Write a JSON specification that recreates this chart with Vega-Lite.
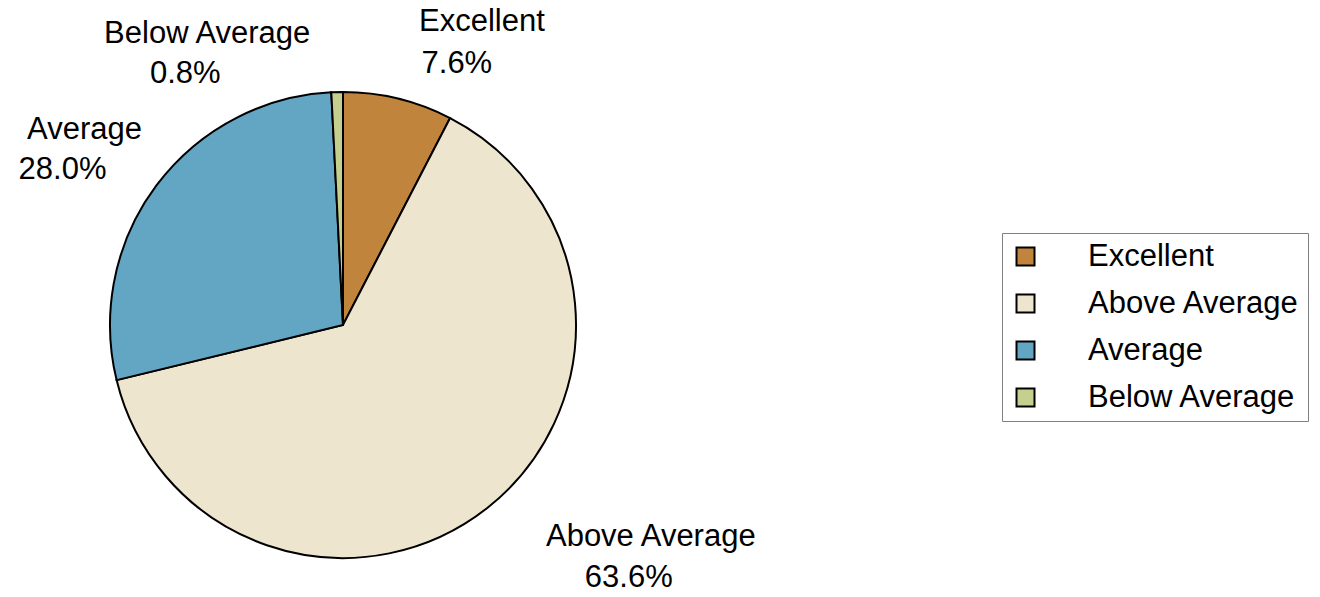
{
  "$schema": "https://vega.github.io/schema/vega-lite/v6.json",
  "width": 686,
  "height": 544,
  "autosize": {"type": "none"},
  "padding": {"left": 0, "top": 53, "right": 634, "bottom": 0},
  "background": "white",
  "config": {"view": {"stroke": null}, "text": {"font": "Liberation Sans"}},
  "data": {
    "values": [
      {"category": "Excellent", "share": 0.076, "rank": 1},
      {"category": "Above Average", "share": 0.636, "rank": 2},
      {"category": "Average", "share": 0.280, "rank": 3},
      {"category": "Below Average", "share": 0.008, "rank": 4}
    ]
  },
  "encoding": {
    "theta": {"field": "share", "type": "quantitative", "stack": true},
    "order": {"field": "rank", "type": "quantitative", "sort": "ascending"}
  },
  "layer": [
    {
      "mark": {"type": "arc", "outerRadius": 233, "stroke": "black", "strokeWidth": 2},
      "encoding": {
        "color": {
          "field": "category",
          "type": "nominal",
          "sort": ["Excellent", "Above Average", "Average", "Below Average"],
          "scale": {
            "domain": ["Excellent", "Above Average", "Average", "Below Average"],
            "range": ["#C0843D", "#EDE5CE", "#62A6C4", "#C5D08F"]
          },
          "legend": {
            "title": null,
            "orient": "none",
            "legendX": 1002,
            "legendY": 180,
            "strokeColor": "#808080",
            "fillColor": "white",
            "padding": 8,
            "symbolType": "square",
            "symbolSize": 324,
            "symbolStrokeColor": "black",
            "symbolStrokeWidth": 2,
            "symbolOpacity": 1,
            "labelFont": "Liberation Sans",
            "labelFontSize": 31,
            "labelColor": "black",
            "labelOffset": 47,
            "labelLimit": 400,
            "rowPadding": 15
          }
        }
      }
    },
    {
      "mark": {"type": "text", "radius": 270, "dx": 75, "dy": -41, "fontSize": 31, "color": "black", "align": "center", "baseline": "middle"},
      "encoding": {"detail": {"field": "category"}, "text": {"condition": {"test": "datum.category === 'Excellent'", "field": "category"}, "value": ""}}
    },
    {
      "mark": {"type": "text", "radius": 270, "dx": 50, "dy": 1, "fontSize": 31, "color": "black", "align": "center", "baseline": "middle"},
      "encoding": {"detail": {"field": "category"}, "text": {"condition": {"test": "datum.category === 'Excellent'", "field": "share", "type": "quantitative", "format": ".1%"}, "value": ""}}
    },
    {
      "mark": {"type": "text", "radius": 270, "dx": 141, "dy": 0, "fontSize": 31, "color": "black", "align": "center", "baseline": "middle"},
      "encoding": {"detail": {"field": "category"}, "text": {"condition": {"test": "datum.category === 'Above Average'", "field": "category"}, "value": ""}}
    },
    {
      "mark": {"type": "text", "radius": 270, "dx": 119, "dy": 41, "fontSize": 31, "color": "black", "align": "center", "baseline": "middle"},
      "encoding": {"detail": {"field": "category"}, "text": {"condition": {"test": "datum.category === 'Above Average'", "field": "share", "type": "quantitative", "format": ".1%"}, "value": ""}}
    },
    {
      "mark": {"type": "text", "radius": 270, "dx": -42, "dy": -34, "fontSize": 31, "color": "black", "align": "center", "baseline": "middle"},
      "encoding": {"detail": {"field": "category"}, "text": {"condition": {"test": "datum.category === 'Average'", "field": "category"}, "value": ""}}
    },
    {
      "mark": {"type": "text", "radius": 270, "dx": -64, "dy": 6, "fontSize": 31, "color": "black", "align": "center", "baseline": "middle"},
      "encoding": {"detail": {"field": "category"}, "text": {"condition": {"test": "datum.category === 'Average'", "field": "share", "type": "quantitative", "format": ".1%"}, "value": ""}}
    },
    {
      "mark": {"type": "text", "radius": 270, "dx": -129, "dy": -21, "fontSize": 31, "color": "black", "align": "center", "baseline": "middle"},
      "encoding": {"detail": {"field": "category"}, "text": {"condition": {"test": "datum.category === 'Below Average'", "field": "category"}, "value": ""}}
    },
    {
      "mark": {"type": "text", "radius": 270, "dx": -151, "dy": 19, "fontSize": 31, "color": "black", "align": "center", "baseline": "middle"},
      "encoding": {"detail": {"field": "category"}, "text": {"condition": {"test": "datum.category === 'Below Average'", "field": "share", "type": "quantitative", "format": ".1%"}, "value": ""}}
    }
  ]
}
